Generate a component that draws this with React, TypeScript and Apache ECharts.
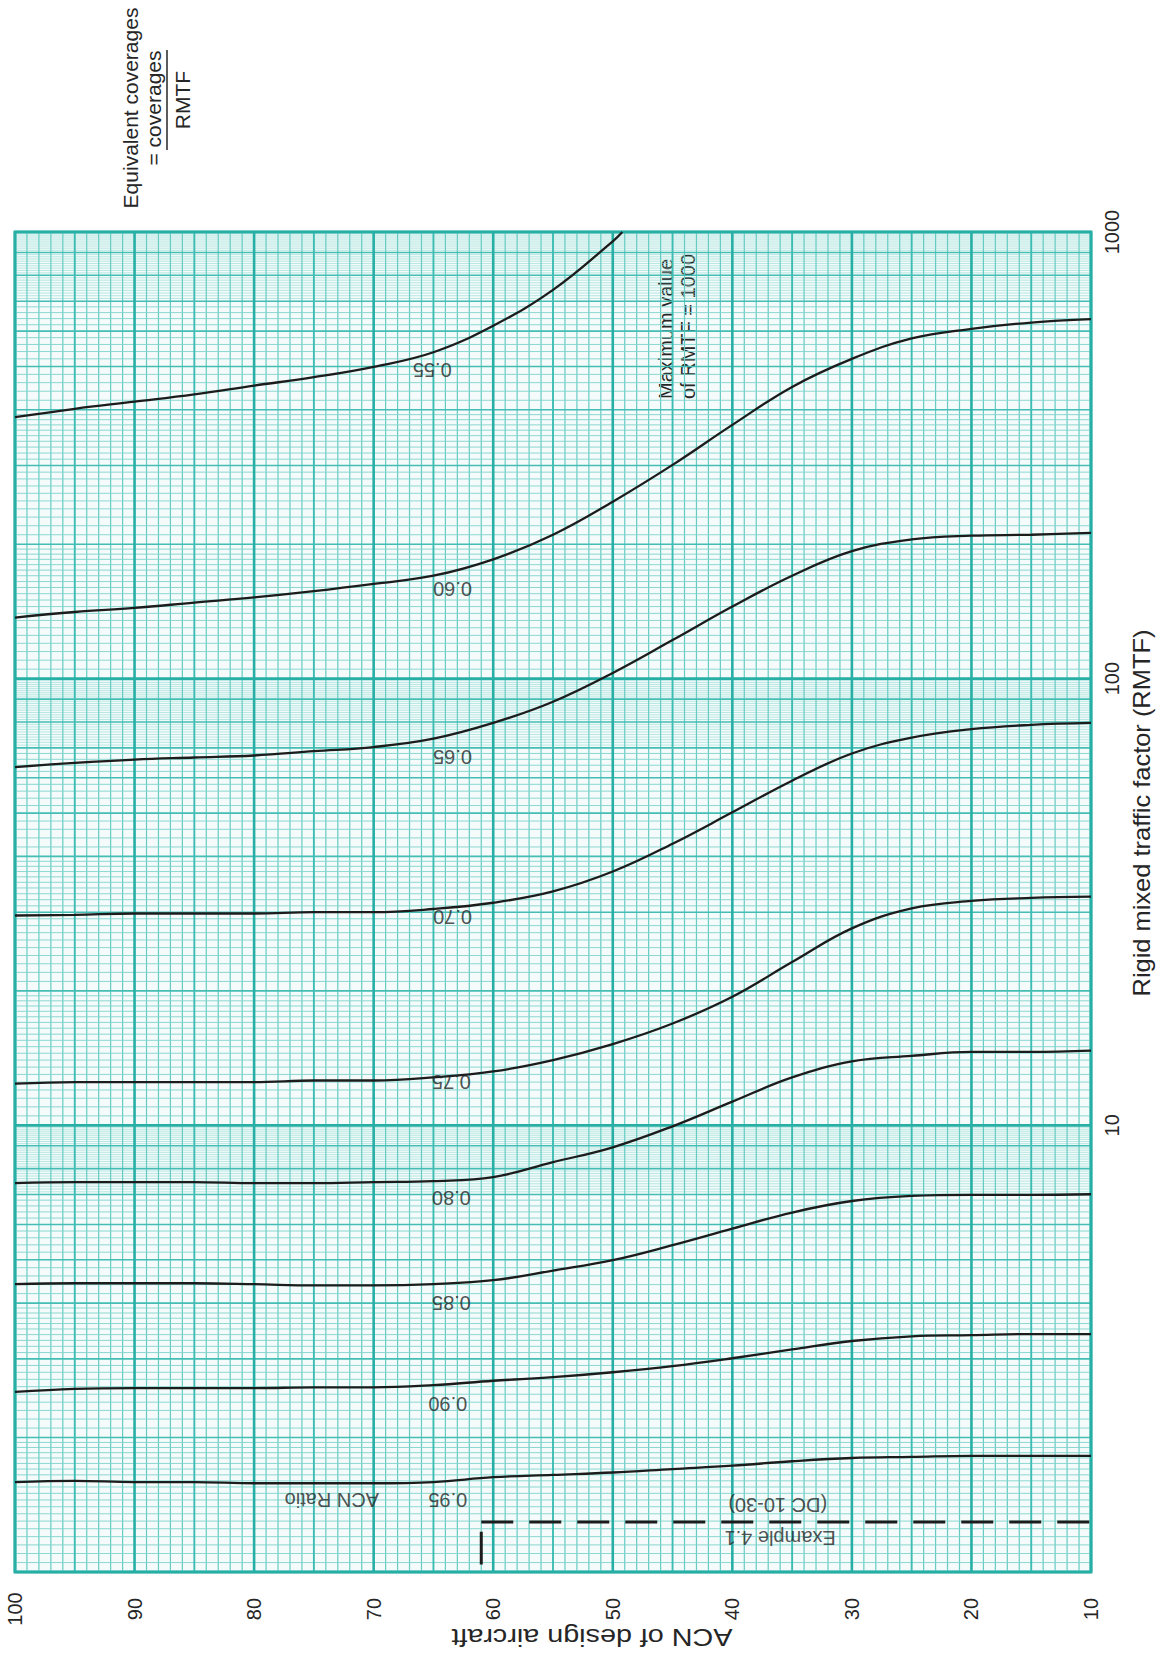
import React, { useEffect, useRef } from "react";
import * as echarts from "echarts";

// ---- data (ACN of design aircraft on x, RMTF on log y) ----
const ACN = [100, 95, 90, 85, 80, 75, 70, 65, 60, 55, 50, 45, 40, 35, 30, 25, 20, 15, 10];
const ACN_055 = [100, 95, 90, 85, 80, 75, 70, 65, 60, 55, 50, 49.2];
const RMTF_055 = [385, 402, 417, 433, 453, 473, 499, 538, 617, 742, 953, 1000];
const RMTF_060 = [137, 141, 144, 148, 152, 157, 163, 170, 185, 210, 249, 301, 370, 450, 520, 578, 607, 627, 638];
const RMTF_065 = [63.4, 64.8, 65.9, 66.6, 67.3, 68.8, 70.3, 73.4, 79.6, 88.8, 103, 122, 145, 170, 193, 205, 209, 210, 212];
const RMTF_070 = [29.5, 29.6, 29.8, 29.8, 29.8, 30.0, 30.0, 30.5, 31.5, 33.4, 37.0, 42.7, 50.2, 59.1, 68.0, 73.8, 77.1, 78.8, 79.6];
const RMTF_075 = [12.4, 12.5, 12.5, 12.5, 12.5, 12.6, 12.6, 12.8, 13.2, 14.0, 15.2, 16.9, 19.4, 23.2, 27.6, 30.6, 31.8, 32.3, 32.5];
const RMTF_080 = [7.42, 7.46, 7.46, 7.46, 7.42, 7.42, 7.46, 7.5, 7.66, 8.27, 8.93, 9.95, 11.3, 12.8, 13.9, 14.3, 14.6, 14.6, 14.7];
const RMTF_085 = [4.41, 4.43, 4.43, 4.43, 4.41, 4.38, 4.38, 4.41, 4.5, 4.73, 4.99, 5.39, 5.87, 6.38, 6.77, 6.95, 6.99, 6.99, 7.01];
const RMTF_090 = [2.53, 2.57, 2.58, 2.58, 2.58, 2.59, 2.59, 2.62, 2.68, 2.73, 2.8, 2.89, 3.01, 3.15, 3.29, 3.37, 3.39, 3.41, 3.41];
const RMTF_095 = [1.59, 1.6, 1.59, 1.59, 1.58, 1.58, 1.58, 1.59, 1.63, 1.65, 1.67, 1.7, 1.73, 1.77, 1.8, 1.81, 1.82, 1.82, 1.82];

const CURVE_NAMES = ["0.55", "0.60", "0.65", "0.70", "0.75", "0.80", "0.85", "0.90", "0.95"];
const LABEL_ACN = [65.1, 63.4, 63.4, 63.4, 63.5, 63.5, 63.5, 63.8, 63.8];
const LABEL_RMTF = [491, 159, 66.9, 29.2, 12.5, 6.87, 4.0, 2.38, 1.45];

// Example 4.1 (DC 10-30)
const EXAMPLE_ACN = 61;
const EXAMPLE_RMTF = 1.294;
const EXAMPLE_TICK_RMTF = [1.04, 1.23];

const X_MIN = 10;
const X_MAX = 100;
const Y_MIN = 1;
const Y_MAX = 1000;

const FONT = "'Liberation Sans', Arial, Helvetica, sans-serif";
const INK = "#262626";

// graph-paper rulings (paper structure, not data)
type GL = { dir: "v" | "h"; v: number; w: number };
function buildPaper(): GL[] {
  const out: GL[] = [];
  for (let a = X_MIN; a <= X_MAX; a++) {
    out.push({ dir: "v", v: a, w: a % 10 === 0 ? 3 : a % 5 === 0 ? 2 : 1 });
  }
  const ks = new Set<number>();
  for (let k = 100; k <= 200; k += 5) ks.add(k);
  for (let k = 200; k <= 400; k += 10) ks.add(k);
  for (let k = 400; k <= 700; k += 20) ks.add(k);
  for (let k = 700; k <= 1000; k += 10) ks.add(k);
  [1, 10, 100].forEach((d) => {
    ks.forEach((k) => {
      if (k === 1000 && d !== 100) return;
      const val = (d * k) / 100;
      const dense = k > 700 && k < 1000;
      const w = k === 100 || k === 1000 ? 3 : k % 100 === 0 ? 2 : dense ? 0 : 1;
      out.push({ dir: "h", v: val, w });
    });
  });
  out.sort((p, q) => p.w - q.w);
  return out;
}
const PAPER = buildPaper();

const V_STYLE: Record<number, [string, number]> = {
  1: ["#66cbc3", 1.2],
  2: ["#3dbcb3", 1.9],
  3: ["#27afa6", 2.6],
};
const H_STYLE: Record<number, [string, number]> = {
  0: ["#8fdad3", 0.6],
  1: ["#80d4cd", 0.9],
  2: ["#44beb5", 1.6],
  3: ["#27afa6", 2.6],
};

function curve(xs: number[], ys: number[]) {
  return xs.map((x, i) => [x, ys[i]]);
}

export default function App() {
  const ref = useRef<HTMLDivElement>(null);

  useEffect(() => {
    if (!ref.current) return;
    const chart = echarts.init(ref.current, null, { renderer: "svg" });

    const lineSeries = (name: string, data: number[][]) => ({
      name,
      type: "line",
      data,
      showSymbol: false,
      symbol: "none",
      smooth: 0.4,
      silent: true,
      z: 5,
      lineStyle: { color: "#1c1c1c", width: 2.3 },
    });

    const option: any = {
      animation: false,
      backgroundColor: "#ffffff",
      grid: {
        left: 15,
        right: 73,
        top: 232,
        bottom: 81,
        show: true,
        backgroundColor: "#f4fbfa",
        borderColor: "#27afa6",
        borderWidth: 3,
      },
      xAxis: {
        type: "value",
        inverse: true,
        min: X_MIN,
        max: X_MAX,
        interval: 10,
        axisLine: { show: false },
        axisTick: { show: false },
        splitLine: { show: false },
        axisLabel: {
          rotate: 90,
          align: "center",
          verticalAlign: "middle",
          margin: 37,
          fontSize: 20,
          fontFamily: FONT,
          color: INK,
          showMinLabel: true,
          showMaxLabel: true,
        },
      },
      yAxis: {
        type: "log",
        logBase: 10,
        min: Y_MIN,
        max: Y_MAX,
        position: "right",
        axisLine: { show: false },
        axisTick: { show: false },
        splitLine: { show: false },
        axisLabel: {
          rotate: 90,
          align: "center",
          verticalAlign: "middle",
          margin: 21,
          fontSize: 20,
          fontFamily: FONT,
          color: INK,
          formatter: (v: number) => (Math.round(v) === 1 ? "" : String(Math.round(v))),
        },
      },
      series: [
        {
          type: "custom",
          silent: true,
          z: 1,
          data: [[55, 10]],
          renderItem: (_params: any, api: any) => {
            const children: any[] = [];
            PAPER.forEach((g) => {
              let p1: number[];
              let p2: number[];
              let st: [string, number];
              if (g.dir === "v") {
                p1 = api.coord([g.v, Y_MIN]);
                p2 = api.coord([g.v, Y_MAX]);
                st = V_STYLE[g.w];
              } else {
                p1 = api.coord([X_MAX, g.v]);
                p2 = api.coord([X_MIN, g.v]);
                st = H_STYLE[g.w];
              }
              children.push({
                type: "line",
                shape: { x1: p1[0], y1: p1[1], x2: p2[0], y2: p2[1] },
                style: { stroke: st[0], lineWidth: st[1] },
              });
            });
            return { type: "group", children };
          },
        },
        lineSeries("0.55", curve(ACN_055, RMTF_055)),
        lineSeries("0.60", curve(ACN, RMTF_060)),
        lineSeries("0.65", curve(ACN, RMTF_065)),
        lineSeries("0.70", curve(ACN, RMTF_070)),
        lineSeries("0.75", curve(ACN, RMTF_075)),
        lineSeries("0.80", curve(ACN, RMTF_080)),
        lineSeries("0.85", curve(ACN, RMTF_085)),
        lineSeries("0.90", curve(ACN, RMTF_090)),
        lineSeries("0.95", curve(ACN, RMTF_095)),
        {
          name: "example",
          type: "line",
          data: [
            [EXAMPLE_ACN, EXAMPLE_RMTF],
            [X_MIN, EXAMPLE_RMTF],
          ],
          showSymbol: false,
          symbol: "none",
          silent: true,
          z: 5,
          lineStyle: { color: "#1c1c1c", width: 3, type: [32, 16] },
        },
        {
          name: "exampleTick",
          type: "line",
          data: [
            [EXAMPLE_ACN, EXAMPLE_TICK_RMTF[0]],
            [EXAMPLE_ACN, EXAMPLE_TICK_RMTF[1]],
          ],
          showSymbol: false,
          symbol: "none",
          silent: true,
          z: 5,
          lineStyle: { color: "#1c1c1c", width: 3 },
        },
        {
          name: "labels",
          type: "scatter",
          symbolSize: 0,
          silent: true,
          z: 6,
          data: [
            ...CURVE_NAMES.map((n, i) => ({ name: n, value: [LABEL_ACN[i], LABEL_RMTF[i]] })),
            { name: "ACN Ratio", value: [73.5, 1.45] },
            { name: "(DC 10-30)", value: [36.2, 1.412] },
            { name: "Example 4.1", value: [36.0, 1.191] },
          ],
          label: {
            show: true,
            position: "inside",
            formatter: "{b}",
            rotate: 180,
            align: "center",
            verticalAlign: "middle",
            fontSize: 20,
            fontFamily: FONT,
            color: INK,
          },
        },
      ],
      graphic: [
        {
          type: "text",
          x: 130,
          y: 108,
          rotation: Math.PI / 2,
          style: { text: "Equivalent coverages", fontSize: 21, fontFamily: FONT, fill: INK, align: "center", verticalAlign: "middle" },
        },
        {
          type: "text",
          x: 153,
          y: 108,
          rotation: Math.PI / 2,
          style: { text: "= coverages", fontSize: 21, fontFamily: FONT, fill: INK, align: "center", verticalAlign: "middle" },
        },
        {
          type: "line",
          shape: { x1: 167, y1: 50, x2: 167, y2: 150 },
          style: { stroke: INK, lineWidth: 1.5 },
        },
        {
          type: "text",
          x: 182,
          y: 100,
          rotation: Math.PI / 2,
          style: { text: "RMTF", fontSize: 21, fontFamily: FONT, fill: INK, align: "center", verticalAlign: "middle" },
        },
        {
          type: "text",
          x: 666,
          y: 399,
          rotation: Math.PI / 2,
          style: { text: "Maximum value", fontSize: 20, fontFamily: FONT, fill: INK, align: "left", verticalAlign: "middle" },
        },
        {
          type: "text",
          x: 688,
          y: 399,
          rotation: Math.PI / 2,
          style: { text: "of RMTF = 1000", fontSize: 20, fontFamily: FONT, fill: INK, align: "left", verticalAlign: "middle" },
        },
        {
          type: "text",
          x: 592,
          y: 1637,
          rotation: Math.PI,
          scaleX: 1.25,
          style: { text: "ACN of design aircraft", fontSize: 23, fontFamily: FONT, fill: INK, align: "center", verticalAlign: "middle" },
        },
        {
          type: "text",
          x: 1142,
          y: 813,
          rotation: Math.PI / 2,
          scaleX: 1.06,
          style: { text: "Rigid mixed traffic factor (RMTF)", fontSize: 24, fontFamily: FONT, fill: INK, align: "center", verticalAlign: "middle" },
        },
      ],
    };

    chart.setOption(option);
    return () => chart.dispose();
  }, []);

  return (
    <div
      ref={ref}
      style={{ position: "absolute", left: 0, top: 0, width: 1164, height: 1653, background: "#ffffff" }}
    />
  );
}
